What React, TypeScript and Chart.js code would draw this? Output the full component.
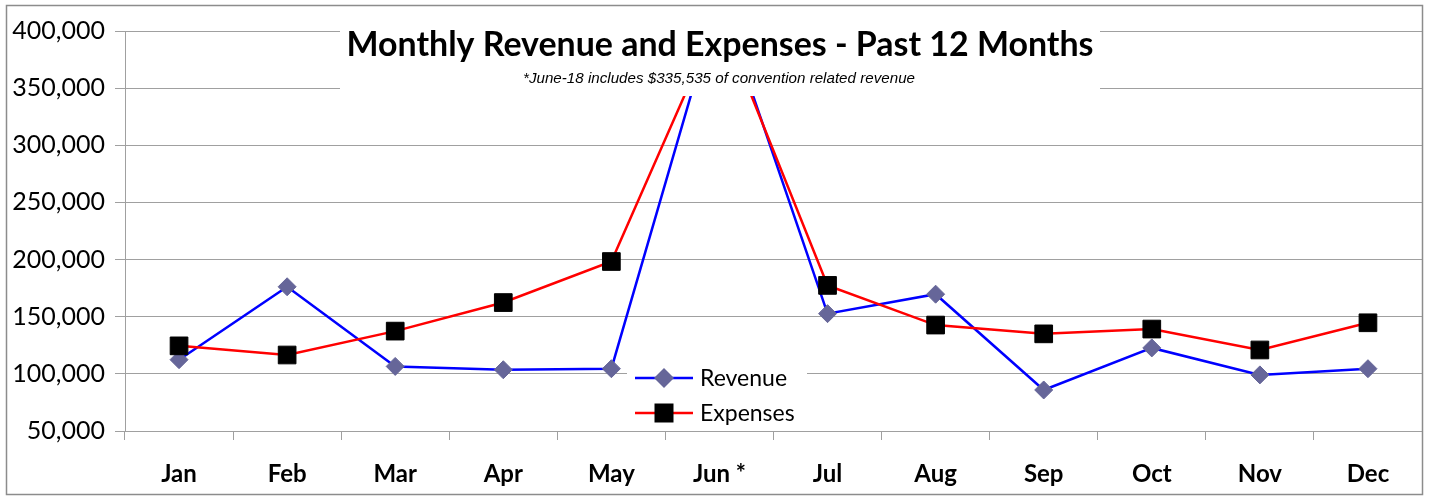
import React, { useEffect, useRef } from 'react';
import { Chart, registerables } from 'chart.js';

Chart.register(...registerables);

const months = ['Jan', 'Feb', 'Mar', 'Apr', 'May', 'Jun *', 'Jul', 'Aug', 'Sep', 'Oct', 'Nov', 'Dec'];
const revenue = [112400, 176200, 106500, 103600, 104500, 429500, 152700, 169700, 85900, 122700, 99100, 104500];
const expenses = [124500, 116500, 137400, 162400, 198300, 413000, 177400, 142700, 135000, 139200, 120900, 144700];
const yMin = 50000;
const yMax = 400000;
const yStep = 50000;
const chartTitle = 'Monthly Revenue and Expenses - Past 12 Months';
const chartSubtitle = '*June-18 includes $335,535 of convention related revenue';
const seriesNames = ['Revenue', 'Expenses'];

function drawFitted(ctx: CanvasRenderingContext2D, text: string, font: string, cx: number, baseline: number, targetW: number) {
  ctx.save();
  ctx.font = font;
  const w = ctx.measureText(text).width;
  const sx = targetW / w;
  ctx.translate(cx, baseline);
  ctx.scale(sx, 1);
  ctx.textAlign = 'center';
  ctx.textBaseline = 'alphabetic';
  ctx.fillText(text, 0, 0);
  ctx.restore();
}

const overlayPlugin = {
  id: 'overlay',
  afterDraw(chart: any) {
    const ctx: CanvasRenderingContext2D = chart.ctx;
    ctx.save();
    // title box
    ctx.fillStyle = '#ffffff';
    ctx.fillRect(340, 16, 760, 80);
    ctx.fillStyle = '#000000';
    drawFitted(ctx, chartTitle, 'bold 34px Lato', 720, 56, 747);
    drawFitted(ctx, chartSubtitle, 'italic 15px "Liberation Sans Narrow", "Liberation Sans"', 719, 83, 392);

    // legend
    ctx.fillStyle = '#ffffff';
    ctx.fillRect(627, 364, 180, 64);
    const rows = [378, 413];
    chart.data.datasets.forEach((ds: any, i: number) => {
      const y = rows[i];
      ctx.strokeStyle = ds.borderColor;
      ctx.lineWidth = 2.5;
      ctx.beginPath();
      ctx.moveTo(635, y);
      ctx.lineTo(693, y);
      ctx.stroke();
      ctx.fillStyle = ds.pointBackgroundColor;
      ctx.beginPath();
      if (ds.pointStyle === 'rectRot') {
        const r = 10;
        ctx.moveTo(664, y - r);
        ctx.lineTo(664 + r, y);
        ctx.lineTo(664, y + r);
        ctx.lineTo(664 - r, y);
        ctx.closePath();
      } else {
        ctx.rect(664 - 9.5, y - 9.5, 19, 19);
      }
      ctx.fill();
      ctx.fillStyle = '#000000';
      ctx.font = '23px Lato';
      ctx.textAlign = 'left';
      ctx.textBaseline = 'middle';
      ctx.fillText(seriesNames[i], 700, y + 1);
    });

    // outer border
    ctx.strokeStyle = '#8c8c8c';
    ctx.lineWidth = 1.5;
    ctx.strokeRect(6.5, 5.5, 1416, 489);
    ctx.restore();
  },
};

export default function App() {
  const ref = useRef<HTMLCanvasElement | null>(null);
  useEffect(() => {
    if (!ref.current) return;
    const chart = new Chart(ref.current, {
      type: 'line',
      data: {
        labels: months,
        datasets: [
          {
            label: seriesNames[0],
            data: revenue,
            borderColor: '#0000ff',
            backgroundColor: '#666699',
            pointBackgroundColor: '#666699',
            pointBorderColor: '#666699',
            pointStyle: 'rectRot',
            pointRadius: 9,
            pointBorderWidth: 1,
            borderWidth: 2.5,
            tension: 0,
            order: 2,
          },
          {
            label: seriesNames[1],
            data: expenses,
            borderColor: '#ff0000',
            backgroundColor: '#000000',
            pointBackgroundColor: '#000000',
            pointBorderColor: '#000000',
            pointStyle: 'rect',
            pointRadius: 12.5,
            pointBorderWidth: 1,
            borderWidth: 2.5,
            tension: 0,
            order: 1,
          },
        ],
      },
      options: {
        animation: false,
        responsive: false,
        layout: { autoPadding: false, padding: { left: 0, right: 7, top: 31, bottom: 0 } },
        plugins: {
          legend: { display: false },
          tooltip: { enabled: false },
          title: { display: false },
        },
        scales: {
          x: {
            offset: true,
            grid: { offset: true, drawOnChartArea: false, drawTicks: true, tickLength: 9, color: '#a0a0a0' },
            border: { display: true, color: '#a0a0a0' },
            ticks: {
              font: { family: 'Lato', weight: 'bold', size: 24 },
              color: '#000000',
              padding: 20,
              maxRotation: 0,
              autoSkip: false,
            },
            afterFit: (s: any) => {
              s.height = 67;
              s.paddingRight = 0;
              s.paddingLeft = 0;
            },
          },
          y: {
            min: yMin,
            max: yMax,
            ticks: {
              stepSize: yStep,
              callback: (v: any) => Number(v).toLocaleString('en-US'),
              font: { family: 'Lato', size: 25 },
              color: '#000000',
              padding: 10,
            },
            grid: { color: '#a0a0a0', tickLength: 10, drawTicks: true },
            border: { display: true, color: '#a0a0a0' },
            afterFit: (s: any) => {
              s.width = 125;
            },
          },
        },
      },
      plugins: [overlayPlugin],
    } as any);
    return () => chart.destroy();
  }, []);
  return (
    <div style={{ position: 'absolute', left: 0, top: 0, width: 1429, height: 498, background: '#ffffff' }}>
      <canvas ref={ref} width={1429} height={498} />
    </div>
  );
}
